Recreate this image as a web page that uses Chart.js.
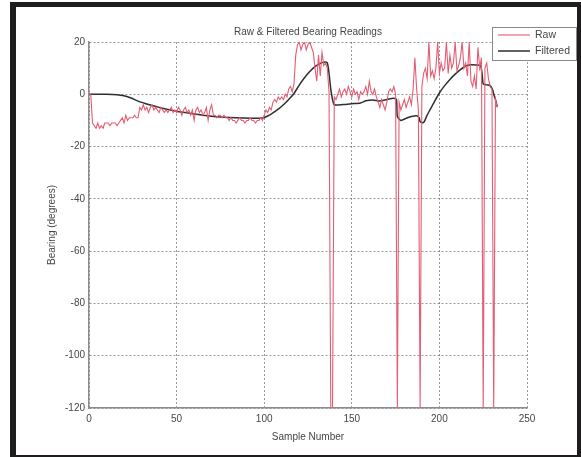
<!DOCTYPE html>
<html>
<head>
<meta charset="utf-8">
<script src="https://cdn.jsdelivr.net/npm/chart.js@4"></script>
<style>
  html, body { margin: 0; padding: 0; background: #fff; }
  #wrap { position: relative; width: 581px; height: 457px; overflow: hidden; }
  #wrap canvas { position: absolute; left: 0; top: 0; }
  #frame {
    position: absolute; left: 10px; top: 2px; width: 571px; height: 455px;
    box-sizing: border-box; border-style: solid; border-color: #1f1d1d;
    border-width: 5px 4px 2px 6px; pointer-events: none;
  }
</style>
</head>
<body>
<div id="wrap">
  <canvas id="c" width="581" height="457"></canvas>
  <div id="frame"></div>
</div>
<script>
// Bearing readings, one value per sample (degrees)
const rawBearing = [
  0, 0, -11, -12, -13, -11, -13, -12, -13, -11,
  -11, -11, -12, -11, -11, -11, -12, -11, -10, -9,
  -11, -8, -10, -9, -9, -9, -8, -9, -9, -5,
  -6, -4, -6, -5, -7, -5, -4, -6, -5, -6,
  -7, -5, -6, -7, -6, -7, -6, -5, -7, -6,
  -7, -5, -6, -8, -6, -5, -7, -6, -8, -6,
  -10, -6, -5, -7, -6, -8, -7, -5, -10, -6,
  -4, -8, -8, -9, -8, -8, -9, -8, -9, -9,
  -10, -9, -10, -10, -11, -10, -9, -10, -10, -11,
  -10, -10, -9, -10, -10, -11, -10, -10, -9, -10,
  -8, -6, -7, -5, -6, -3, -2, -3, -1, -2,
  -1, -2, 0, -1, 2, 3, 1, 4, 15, 19,
  20, 17, 19, 20, 17, 19, 20, 18, 16, 10,
  5, 15, 7, 16, 11, 12, 10, 1, -120, -120,
  -1, -2, 0, 2, -1, 1, 2, 0, 3, 1,
  -1, 2, 0, 1, -2, 1, 0, 1, 3, 0,
  5, 1, 0, 2, -1, -3, -5, -2, -4, -6,
  -3, 1, 2, 1, 3, 0, -120, -3, -6, -4,
  -2, -5, -3, -1, -4, 2, 14, 2, -6, -120,
  3, 8, 10, 6, 20, 7, 9, 6, 10, 20,
  8, 12, 9, 10, 20, 8, 15, 10, 12, 20,
  9, 11, 14, 20, 10, 12, 7, 20, 5, 3,
  7, 2, 18, 10, 14, -120, 10, 12, 6, 3,
  2, -120, -2, -5
];

// Filtered bearing, sampled at these sample numbers
const filteredSample = [
  0, 10, 16, 20, 24, 28, 32, 36, 40, 45, 50, 55, 60, 65, 70, 75, 80, 88, 95, 99,
  102, 105, 108, 111, 114, 117, 120, 123, 126, 129, 132, 134, 136, 137, 138, 139, 140,
  145, 150, 155, 158, 162, 166, 170, 174, 175.5, 176, 178, 181, 184, 187, 188.5, 189,
  191, 193, 195, 197, 200, 203, 206, 209, 212, 215, 218, 221, 223.5, 224.5, 225,
  227, 229, 230.5, 231, 232, 233
];
const filteredBearing = [
  0, 0, -0.2, -0.6, -1.4, -2.6, -3.5, -4.3, -5.0, -5.8, -6.5, -7.0, -7.5, -8.0, -8.4, -8.7, -8.9, -9.1, -9.2, -9.1,
  -8.3, -7.1, -5.7, -4.0, -2.0, 0.3, 3.5, 6.3, 8.7, 10.6, 11.8, 12.3, 12.0, 8, 2, -2, -4,
  -3.9, -3.6, -3.3, -2.5, -2.2, -2.6, -2.0, -1.5, -2, -8.5, -10, -9.2, -8.5, -8.2, -9, -10.5,
  -10.8, -8, -5.5, -3, 0.5, 3.3, 5.7, 7.7, 9.4, 10.8, 11.3, 11.2, 11, 7, 4,
  3.6, 3.3, 1.5, 0, -2, -4.8
];

const seriesNames = ['Raw', 'Filtered'];
const xTicks = [0, 50, 100, 150, 200, 250];
const yTicks = [20, 0, -20, -40, -60, -80, -100, -120];

const chartTitle = 'Raw & Filtered Bearing Readings';
const xTitle = 'Sample Number';
const yTitle = 'Bearing (degrees)';

const RAW_COLOR = '#e45d73';
const FILT_COLOR = '#2e2e2e';
const TEXT_COLOR = '#464646';
const FONT = 'Liberation Sans, Arial, sans-serif';

// Titles and the boxed legend in the upper-right corner
const annotations = {
  id: 'annotations',
  afterDraw(chart) {
    const ctx = chart.ctx;
    const a = chart.chartArea;
    ctx.save();
    ctx.fillStyle = TEXT_COLOR;
    ctx.font = '10px ' + FONT;
    ctx.textAlign = 'center';
    ctx.textBaseline = 'middle';
    ctx.fillText(chartTitle, (a.left + a.right) / 2, 32);
    ctx.fillText(xTitle, (a.left + a.right) / 2, 437);
    ctx.translate(52, (a.top + a.bottom) / 2);
    ctx.rotate(-Math.PI / 2);
    ctx.fillText(yTitle, 0, 0);
    ctx.restore();

    // legend
    ctx.save();
    const bx = 492.5, by = 27.5, bw = 84, bh = 33;
    ctx.fillStyle = '#fff';
    ctx.fillRect(bx, by, bw, bh);
    ctx.strokeStyle = '#8a8a8a';
    ctx.lineWidth = 1;
    ctx.strokeRect(bx, by, bw, bh);
    const ds = chart.data.datasets;
    const rows = [35, 51];
    ctx.font = '10.5px ' + FONT;
    ctx.textAlign = 'left';
    ctx.textBaseline = 'middle';
    ds.forEach((d, i) => {
      ctx.strokeStyle = d.borderColor;
      ctx.lineWidth = d.borderWidth;
      ctx.beginPath();
      ctx.moveTo(498, rows[i]);
      ctx.lineTo(530, rows[i]);
      ctx.stroke();
      ctx.fillStyle = TEXT_COLOR;
      ctx.fillText(d.label, 535, rows[i]);
    });
    ctx.restore();
  }
};

new Chart(document.getElementById('c'), {
  type: 'line',
  data: {
    datasets: [
      {
        label: seriesNames[0],
        data: rawBearing.map((v, i) => ({ x: i, y: v })),
        borderColor: RAW_COLOR,
        borderWidth: 1.1,
        pointRadius: 0,
        tension: 0,
        fill: false
      },
      {
        label: seriesNames[1],
        data: filteredSample.map((s, i) => ({ x: s, y: filteredBearing[i] })),
        borderColor: FILT_COLOR,
        borderWidth: 1.5,
        pointRadius: 0,
        tension: 0.2,
        fill: false
      }
    ]
  },
  options: {
    responsive: false,
    animation: false,
    devicePixelRatio: 1,
    layout: { padding: { left: 0, right: 54, top: 42, bottom: 0 } },
    plugins: {
      legend: { display: false },
      title: { display: false },
      tooltip: { enabled: false }
    },
    scales: {
      x: {
        type: 'linear',
        min: xTicks[0],
        max: xTicks[xTicks.length - 1],
        afterFit(scale) { scale.height = 49; },
        afterBuildTicks(scale) { scale.ticks = xTicks.map(v => ({ value: v })); },
        ticks: { color: TEXT_COLOR, font: { family: FONT, size: 10 }, padding: 5, maxRotation: 0 },
        grid: { color: 'rgba(70,70,70,0.55)', lineWidth: 1, drawTicks: false, tickLength: 0 },
        border: { display: true, color: '#8c8c8c', width: 1.5, dash: [2, 2] }
      },
      y: {
        type: 'linear',
        min: yTicks[yTicks.length - 1],
        max: yTicks[0],
        afterFit(scale) { scale.width = 89; },
        afterBuildTicks(scale) { scale.ticks = yTicks.slice().reverse().map(v => ({ value: v })); },
        ticks: { color: TEXT_COLOR, font: { family: FONT, size: 10 }, padding: 4 },
        grid: { color: 'rgba(70,70,70,0.55)', lineWidth: 1, drawTicks: false, tickLength: 0 },
        border: { display: true, color: '#8c8c8c', width: 1.5, dash: [2, 2] }
      }
    }
  },
  plugins: [annotations]
});
</script>
</body>
</html>
